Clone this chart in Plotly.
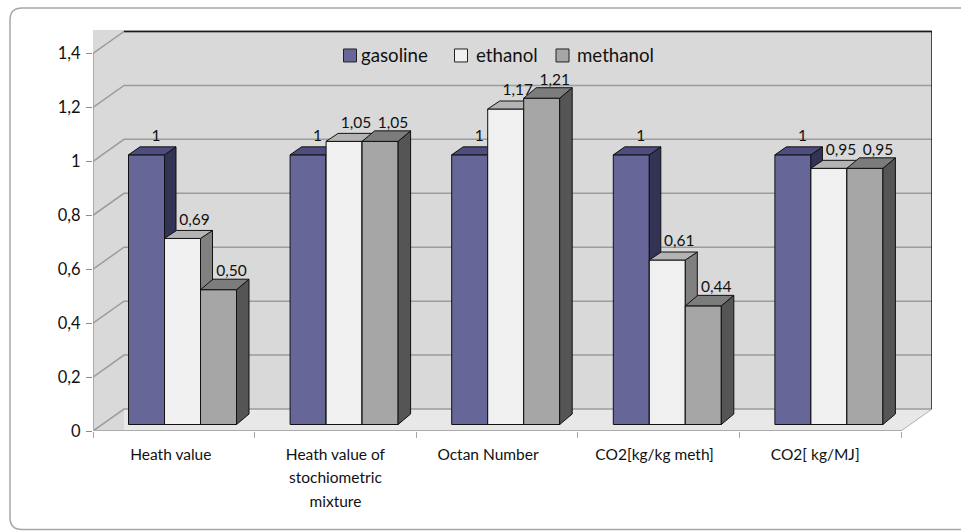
import plotly.graph_objects as go

categories = ["Heath value", "Heath value of<br>stochiometric<br>mixture", "Octan Number", "CO2[kg/kg meth]", "CO2[ kg/MJ]"]
series_names = ["gasoline", "ethanol", "methanol"]
gasoline = [1, 1, 1, 1, 1]
ethanol = [0.69, 1.05, 1.17, 0.61, 0.95]
methanol = [0.50, 1.05, 1.21, 0.44, 0.95]
gasoline_labels = ["1", "1", "1", "1", "1"]
ethanol_labels = ["0,69", "1,05", "1,17", "0,61", "0,95"]
methanol_labels = ["0,50", "1,05", "1,21", "0,44", "0,95"]
y_ticks = [0, 0.2, 0.4, 0.6, 0.8, 1, 1.2, 1.4]
y_tick_labels = ["0", "0,2", "0,4", "0,6", "0,8", "1", "1,2", "1,4"]

FONT = "Lato"
TXT = "#111111"
PX_X, PX_Y = 161.6, 270.0          # pixels per data unit
L, R, B, T = 93, 932, 431.5, 30
DX, DY = 31 / PX_X, 22 / PX_Y      # depth of the walls
XMAX = 5 + DX
YMAX = (B - T) / PX_Y
BAR_W, BAR_START = 36 / PX_X, 35.5 / PX_X
BAR_BASE = 6.5 / PX_Y
BAR_DX = [11.5 / PX_X, 12 / PX_X, 12.5 / PX_X]
BAR_DY = [8 / PX_Y, 8 / PX_Y, 10.5 / PX_Y]
LABEL_DX = [9.5 / PX_X, 12 / PX_X, 13 / PX_X]
CAT_SHIFT = [-3, 0, -9, -4, -5]

faces = [("#666699", "#4d4d80", "#333355"),
         ("#f0f0f0", "#b4b4b4", "#808080"),
         ("#a6a6a6", "#7c7c7c", "#555555")]
values = [gasoline, ethanol, methanol]
labels = [gasoline_labels, ethanol_labels, methanol_labels]

fig = go.Figure()

# room: walls, white corner, floor, grid lines on side and back wall
fig.add_trace(go.Scatter(x=[0, XMAX, XMAX, 0, 0], y=[0, 0, YMAX, YMAX, 0], fill="toself", fillcolor="#d9d9d9",
                         mode="none", showlegend=False, hoverinfo="skip"))
fig.add_trace(go.Scatter(x=[5, XMAX, XMAX, 5], y=[0, DY, 0, 0], fill="toself", fillcolor="#ffffff",
                         mode="none", showlegend=False, hoverinfo="skip"))
fig.add_trace(go.Scatter(x=[DX, XMAX, 5, DX, DX], y=[DY, DY, 0, 0, DY], fill="toself", fillcolor="#e8e8e8",
                         mode="none", showlegend=False, hoverinfo="skip"))
fig.add_trace(go.Scatter(x=[XMAX, 5], y=[DY, 0], mode="lines", line=dict(color="#b0b0b0", width=1),
                         showlegend=False, hoverinfo="skip"))
gx, gy = [], []
for t in y_ticks:
    gx += [0, DX, XMAX + 0.006, None]
    gy += [t, t + DY, t + DY, None]
gx += [0, 0]
gy += [0, y_ticks[-1]]
fig.add_trace(go.Scatter(x=gx, y=gy, mode="lines", line=dict(color="#9c9c9c", width=1.5),
                         showlegend=False, hoverinfo="skip"))
fig.add_trace(go.Scatter(x=[DX, XMAX, XMAX], y=[y_ticks[-1] + DY, y_ticks[-1] + DY, DY], mode="lines",
                         line=dict(color="#1a1a1a", width=1.5), showlegend=False, hoverinfo="skip"))
fig.add_trace(go.Scatter(x=[0, 5, 5.004], y=[0, 0, -0.003], mode="lines", line=dict(color="#ababab", width=2),
                         showlegend=False, hoverinfo="skip"))

for s, name in enumerate(series_names):
    ax = str(s + 2)
    xa, ya = "x" + ax, "y" + ax
    xs = [g + BAR_START + (s + 0.5) * BAR_W for g in range(5)]
    front, top, side = faces[s]
    fig.add_trace(go.Bar(x=xs, y=values[s], base=BAR_BASE, width=BAR_W, name=name, xaxis=xa, yaxis=ya,
                         marker=dict(color=front, line=dict(color="#111111", width=1)), hoverinfo="skip",
                         showlegend=False))
    tx, ty, sx, sy = [], [], [], []
    ddx, ddy = BAR_DX[s], BAR_DY[s]
    for xc, v in zip(xs, values[s]):
        x0, x1 = xc - BAR_W / 2, xc + BAR_W / 2
        y1 = BAR_BASE + v
        tx += [x0, x1, x1 + ddx, x0 + ddx, x0, None]
        ty += [y1, y1, y1 + ddy, y1 + ddy, y1, None]
        sx += [x1, x1 + ddx, x1 + ddx, x1, x1, None]
        sy += [BAR_BASE, BAR_BASE + ddy, y1 + ddy, y1, BAR_BASE, None]
    for px, py, col in ((sx, sy, side), (tx, ty, top)):
        fig.add_trace(go.Scatter(x=px, y=py, fill="toself", fillcolor=col, mode="lines",
                                 line=dict(color="#111111", width=1), showlegend=False, hoverinfo="skip",
                                 xaxis=xa, yaxis=ya))

for s in range(3):
    xs = [g + BAR_START + (s + 0.5) * BAR_W + LABEL_DX[s] for g in range(5)]
    ys = [v + 24 / PX_Y for v in values[s]]
    fig.add_trace(go.Scatter(x=xs, y=ys, text=labels[s], mode="text", textposition="middle center",
                             textfont=dict(family=FONT, size=15.5, color=TXT), showlegend=False, hoverinfo="skip",
                             xaxis="x4", yaxis="y4"))

# legend row placed on the back wall, in pixels of the page
LEG_Y = (B - 55.5) / PX_Y
LEG_SWATCH = [350, 461, 562.5]
LEG_TEXT = [361, 476, 577]
for s, name in enumerate(series_names):
    fig.add_trace(go.Scatter(x=[(LEG_SWATCH[s] - L) / PX_X], y=[LEG_Y], mode="markers", hoverinfo="skip",
                             marker=dict(symbol="square", size=13, color=faces[s][0],
                                         line=dict(color="#222222", width=1)),
                             showlegend=False, xaxis="x4", yaxis="y4"))
    fig.add_trace(go.Scatter(x=[(LEG_TEXT[s] - L) / PX_X], y=[LEG_Y - 2 / PX_Y], mode="text", text=[name],
                             textposition="middle right", hoverinfo="skip",
                             textfont=dict(family=FONT, size=18.7, color=TXT),
                             showlegend=False, xaxis="x4", yaxis="y4"))


def big_lines(t):
    return "<br>".join(f"<span style='font-size:15.5px'>{p}</span>" for p in t.split("<br>"))


def px_path(points):
    out = []
    for cmd, coords in points:
        c = " ".join(f"{(x - L) / (R - L):.5f},{(B - y) / (B - T):.5f}" for x, y in coords)
        out.append(cmd + c)
    return " ".join(out)


frame = px_path([("M", [(961, 8)]), ("L", [(22, 8)]), ("Q", [(10, 8), (10, 20)]), ("L", [(10, 518)]),
                 ("Q", [(10, 530), (22, 530)]), ("L", [(961, 530)])])

hidden = dict(visible=False, fixedrange=True)
fig.update_layout(
    width=961, height=532,
    margin=dict(l=L, r=961 - R, t=T, b=532 - B, pad=0),
    paper_bgcolor="#ffffff", plot_bgcolor="#ffffff",
    font=dict(family=FONT, size=14, color=TXT),
    barmode="overlay",
    showlegend=False,
    xaxis=dict(range=[0, XMAX], tickvals=[g + 0.5 + CAT_SHIFT[g] / PX_X for g in range(5)],
               ticktext=[big_lines(c) for c in categories], ticks="", showgrid=False, zeroline=False,
               tickfont=dict(family=FONT, size=18, color=TXT), ticklabelstandoff=10,
               minor=dict(tick0=0, dtick=1, ticks="outside", ticklen=6, tickcolor="#a6a6a6", tickwidth=1, showgrid=False),
               tickangle=0, showline=False, fixedrange=True),
    yaxis=dict(range=[0, YMAX], tickvals=y_ticks, ticktext=y_tick_labels, ticks="outside", ticklen=6,
               tickcolor="#8c8c8c", tickwidth=1, showgrid=False, zeroline=False, showline=False,
               tickfont=dict(family=FONT, size=16.5, color=TXT), ticklabelstandoff=2, fixedrange=True),
    shapes=[dict(type="path", xref="paper", yref="paper", path=frame, line=dict(color="#a6a6a6", width=1.5),
                 fillcolor="rgba(0,0,0,0)", layer="below")],
)
for n in (2, 3, 4):
    fig.update_layout({f"xaxis{n}": dict(overlaying="x", range=[0, XMAX], **hidden),
                       f"yaxis{n}": dict(overlaying="y", range=[0, YMAX], **hidden)})

fig.write_html("out.html", config={"displayModeBar": False}, post_script="document.body.style.margin='0';")
